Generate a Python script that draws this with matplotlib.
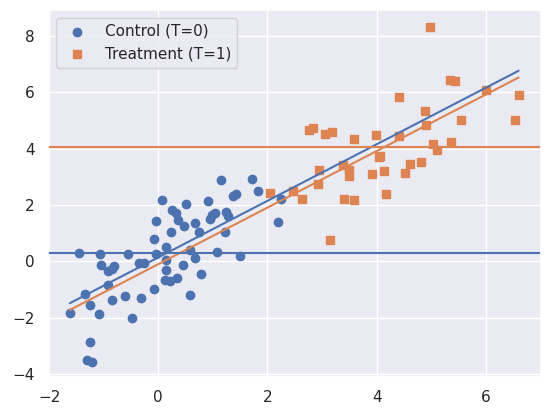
import matplotlib
matplotlib.use("Agg")
import matplotlib.pyplot as plt
import numpy as np
import seaborn as sns

# control group (T=0)
ctrl_x = [-1.62, -1.46, -1.34, -1.25, -1.25, -1.30, -1.22, -1.09, -1.07, -1.05,
          -0.93, -0.84, -0.81, -0.93, -0.84, -0.61, -0.56, -0.49, -0.36, -0.26,
          -0.31, -0.07, -0.07, -0.04, -0.05, 0.06, 0.15, 0.15, 0.15, 0.12,
          0.21, 0.35, 0.25, 0.33, 0.37, 0.48, 0.24, 0.50, 0.46, 0.58,
          0.68, 0.75, 0.59, 0.68, 0.79, 0.91, 0.95, 0.99, 1.03, 1.07,
          1.14, 1.71, 1.82, 1.37, 1.42, 1.24, 1.27, 1.23, 1.49, 2.19, 2.25]
ctrl_y = [-1.82, 0.31, -1.15, -1.56, -2.88, -3.51, -3.57, -1.88, 0.24, -0.14,
          -0.34, -0.26, -0.18, -0.83, -1.39, -1.24, 0.25, -2.00, -0.06, -0.06,
          -1.32, -0.99, 0.80, 1.42, 0.25, 2.19, 0.49, 0.04, -0.32, -0.67,
          -0.71, -0.60, 1.83, 1.73, 1.45, 1.24, 1.04, 2.02, -0.15, -1.21,
          1.37, 1.03, 0.39, 0.13, -0.44, 2.13, 1.49, 1.63, 1.70, 0.34,
          2.87, 2.91, 2.48, 2.32, 2.37, 1.74, 1.62, 1.03, 0.18, 1.38, 2.22]

# treatment group (T=1)
treat_x = [2.05, 2.46, 2.63, 2.92, 2.94, 2.76, 2.83, 3.05, 3.19, 3.14,
           3.39, 3.50, 3.49, 3.41, 3.59, 3.58, 3.98, 3.92, 4.05, 4.07,
           4.14, 4.18, 4.41, 4.40, 4.52, 4.61, 4.81, 4.89, 4.91, 4.98,
           5.03, 5.11, 5.34, 5.44, 5.36, 5.54, 6.01, 6.60, 6.54]
treat_y = [2.44, 2.48, 2.22, 2.73, 3.25, 4.65, 4.74, 4.53, 4.60, 0.74,
           3.42, 3.25, 3.01, 2.22, 2.19, 4.35, 4.49, 3.09, 3.70, 3.75,
           3.22, 2.40, 5.84, 4.46, 3.14, 3.46, 3.53, 5.34, 4.85, 8.33,
           4.15, 3.96, 6.45, 6.41, 4.23, 5.02, 6.07, 5.91, 5.00]

# fitted lines (intercept, slope) and group means
fit_blue = (0.137, 1.004)
fit_orange = (-0.104, 1.004)
mean_ctrl = 0.29
mean_treat = 4.05

sns.set_theme()

fig = plt.figure(figsize=(5.51, 4.17), dpi=100)
ax = fig.add_axes([48 / 551, 40 / 417, 493 / 551, 367 / 417])

ax.scatter(ctrl_x, ctrl_y, color="C0", marker="o", label="Control (T=0)")
ax.scatter(treat_x, treat_y, color="C1", marker="s", label="Treatment (T=1)")

all_x = np.array(ctrl_x + treat_x)
xs = np.array([all_x.min(), all_x.max()])
ax.plot(xs, fit_blue[0] + fit_blue[1] * xs, color="C0")
ax.plot(xs, fit_orange[0] + fit_orange[1] * xs, color="C1")

ax.axhline(mean_ctrl, color="C0")
ax.axhline(mean_treat, color="C1")

ax.set_xlim(-2.02, 7.01)
ax.set_ylim(-4.11, 8.92)

ax.legend(loc="upper left")

fig.savefig("out.png", dpi=100)
